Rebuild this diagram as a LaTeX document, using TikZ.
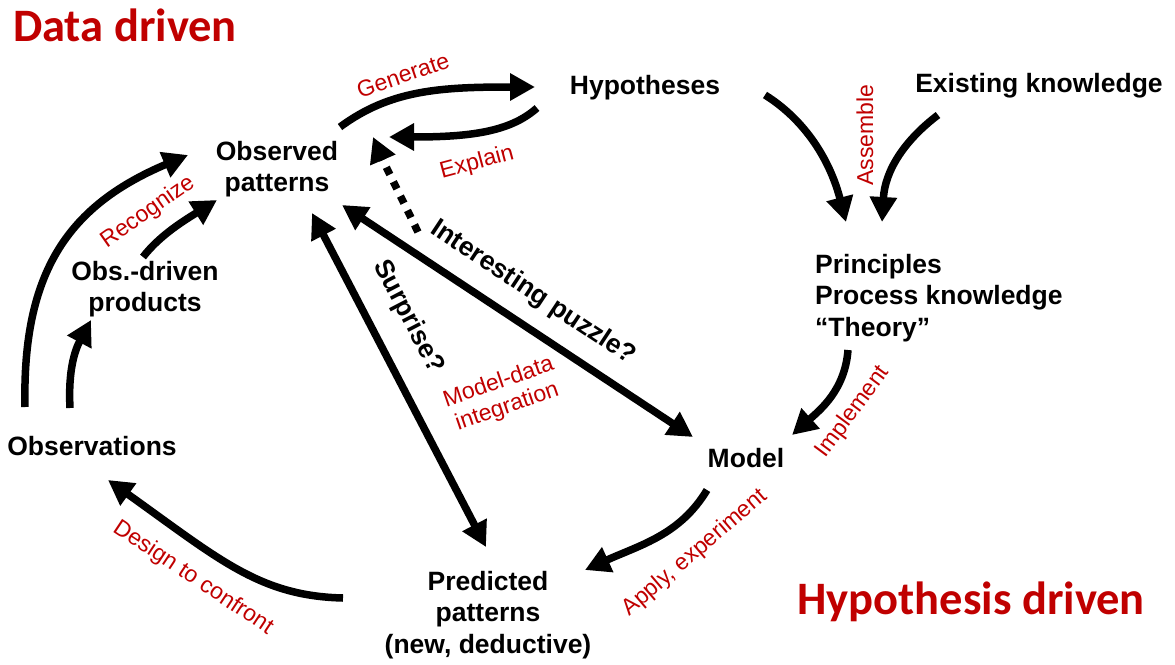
\documentclass[tikz,border=0pt]{standalone}
\usepackage{fontspec}
\setmainfont{Liberation Sans}
\newfontfamily\calib{Carlito}
\usetikzlibrary{arrows.meta}
\definecolor{dred}{HTML}{C00000}
\tikzset{
 lbl/.style={font=\fontsize{26.5}{31.5}\selectfont\bfseries, align=center, inner sep=0pt},
 rlbl/.style={font=\fontsize{23}{26}\selectfont, text=dred, inner sep=0pt, align=center},
 ttl/.style={font=\calib\fontsize{46.5}{50}\selectfont\bfseries, text=dred, inner sep=0pt},
 arr/.style={line width=7.5pt, -{Triangle[length=25pt,width=26pt]}},
 darr/.style={line width=7.5pt, {Triangle[length=25pt,width=26pt]}-{Triangle[length=25pt,width=26pt]}},
 dotarr/.style={line width=7.5pt, dash pattern=on 8pt off 8pt, -{Triangle[length=25pt,width=26pt]}},
}
\begin{document}
\begin{tikzpicture}[x=1pt,y=-1pt]
\useasboundingbox (0,0) rectangle (1175,664);
% titles
\node[ttl] (dd) at (125,25) {Data driven};
\node[ttl] (hd) at (971,602) {Hypothesis driven};
% main nodes
\node[lbl] (obsp) at (277,169) {Observed\\patterns};
\node[lbl] (hyp) at (645,88) {Hypotheses};
\node[lbl] (ek) at (1039,86) {Existing knowledge};
\node[lbl] (odp) at (145,289) {Obs.-driven\\products};
\node[lbl, align=left, anchor=west] (pr) at (815,298) {Principles\\Process knowledge\\``Theory''};
\node[lbl] (mod) at (746,458) {Model};
\node[lbl] (obs) at (92,446) {Observations};
\node[lbl] (pp) at (488,615) {Predicted\\patterns\\(new, deductive)};
% connector end points
\coordinate (g1) at (340,127); \coordinate (g2) at (535,87);
\coordinate (e1) at (537,108); \coordinate (e2) at (389,137);
\coordinate (d1) at (418,232); \coordinate (d2) at (373,137);
\coordinate (i1) at (342,205); \coordinate (i2) at (693,437);
\coordinate (s1) at (312,213); \coordinate (s2) at (486,547);
\coordinate (o1) at (25,407); \coordinate (o2) at (188,155);
\coordinate (p1) at (70,408); \coordinate (p2) at (91,320);
\coordinate (r1) at (143,257); \coordinate (r2) at (217,200);
\coordinate (h1) at (765,95); \coordinate (h2) at (846,222);
\coordinate (k1) at (938,115); \coordinate (k2) at (882,222);
\coordinate (m1) at (848,350); \coordinate (m2) at (792,435);
\coordinate (a1) at (707,490); \coordinate (a2) at (585,570);
\coordinate (c1) at (343,598); \coordinate (c2) at (108,480);
% connectors
\draw[arr] (g1) .. controls (390,90) and (440,87) .. (g2);
\draw[arr] (e1) .. controls (510,132) and (470,137) .. (e2);
\draw[dotarr] (d1) .. controls (400,195) and (385,165) .. (d2);
\draw[darr] (i1) -- (i2);
\draw[darr] (s1) -- (s2);
\draw[arr] (o1) .. controls (22,270) and (70,205) .. (o2);
\draw[arr] (p1) .. controls (68,370) and (75,350) .. (p2);
\draw[arr] (r1) .. controls (160,235) and (185,220) .. (r2);
\draw[arr] (h1) .. controls (805,120) and (830,160) .. (h2);
\draw[arr] (k1) .. controls (905,140) and (885,170) .. (k2);
\draw[arr] (m1) .. controls (845,390) and (820,410) .. (m2);
\draw[arr] (a1) .. controls (680,535) and (640,545) .. (a2);
\draw[arr] (c1) .. controls (260,596) and (220,560) .. (c2);
% connector labels
\node[rlbl, rotate=19] (lg) at (403,75) {Generate};
\node[rlbl, rotate=15] (le) at (477,163) {Explain};
\node[rlbl, rotate=90] (la) at (865,135) {Assemble};
\node[rlbl, rotate=35] (lr) at (148,212) {Recognize};
\node[lbl, rotate=-33.5] (li) at (533,293) {Interesting puzzle?};
\node[lbl, rotate=-62.5] (ls) at (408,317) {Surprise?};
\node[rlbl, rotate=19] (lm) at (503,395) {Model-data\\integration};
\node[rlbl, rotate=53.5] (lim) at (853,412) {Implement};
\node[rlbl, rotate=40.5] (lap) at (695,553) {Apply, experiment};
\node[rlbl, rotate=-33.6] (ldc) at (193,578) {Design to confront};
\end{tikzpicture}
\end{document}
